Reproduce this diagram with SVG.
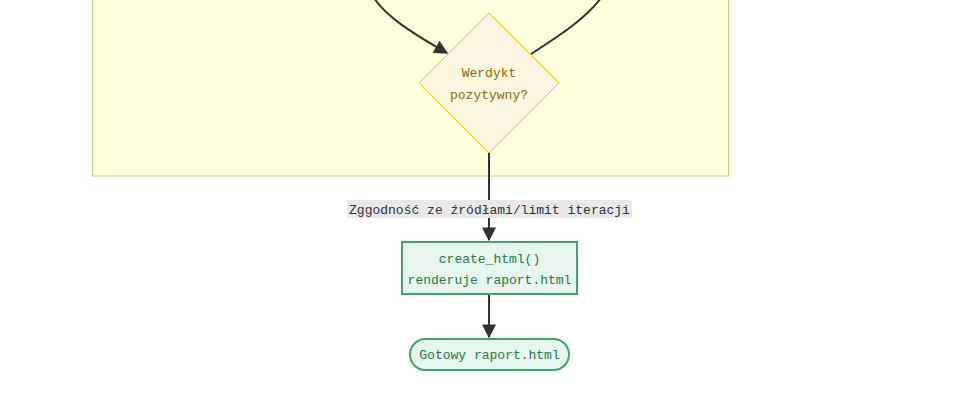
<svg xmlns="http://www.w3.org/2000/svg" width="953" height="412" viewBox="0 0 953 412">
<defs>
<style>
.lbl{font-family:"Liberation Mono","DejaVu Sans Mono",monospace;font-size:13px;text-anchor:middle}
.edge{fill:none;stroke:#333;stroke-width:2}
</style>
<marker id="ah" viewBox="0 0 10 10" refX="9" refY="5" markerWidth="7" markerHeight="7" orient="auto" markerUnits="strokeWidth">
<path d="M0,0 L10,5 L0,10 z" fill="#333"/>
</marker>
</defs>
<rect width="953" height="412" fill="#fff"/>
<g id="cluster">
<rect x="92.5" y="-20" width="636" height="196" fill="#ffffde" stroke="#cdcd8a" stroke-width="1"/>
</g>
<g id="connectors">
<path class="edge" d="M374,-2 C386,16 410,32 447,53" marker-end="url(#ah)"/>
<path class="edge" d="M531,54 C562,34 586,18 601,-2"/>
<path class="edge" d="M489,153 L489,240" marker-end="url(#ah)"/>
<path class="edge" d="M489,295 L489,337" marker-end="url(#ah)"/>
</g>
<g id="edge-label">
<rect x="347" y="200" width="285" height="18" fill="#e8e8e8"/>
<text class="lbl" x="489.5" y="214" fill="#333">Zggodność ze źródłami/limit iteracji</text>
</g>
<g id="decision">
<polygon points="489,13 559,83 489,153 419,83" fill="#fdf6e0" stroke="#e6c619" stroke-width="1"/>
<text class="lbl" x="489" y="77" fill="#8a6a0a">Werdykt</text>
<text class="lbl" x="489" y="99" fill="#8a6a0a">pozytywny?</text>
</g>
<g id="create_html">
<rect x="402" y="242" width="175" height="52" fill="#e6f6ee" stroke="#3ea46c" stroke-width="2"/>
<text class="lbl" x="489.5" y="263" fill="#1e7a4a">create_html()</text>
<text class="lbl" x="489.5" y="284" fill="#1e7a4a">renderuje raport.html</text>
</g>
<g id="done">
<rect x="410" y="339" width="159" height="31" rx="15.5" ry="15.5" fill="#e6f6ee" stroke="#3ea46c" stroke-width="2"/>
<text class="lbl" x="489.5" y="359" fill="#1e7a4a">Gotowy raport.html</text>
</g>
</svg>
